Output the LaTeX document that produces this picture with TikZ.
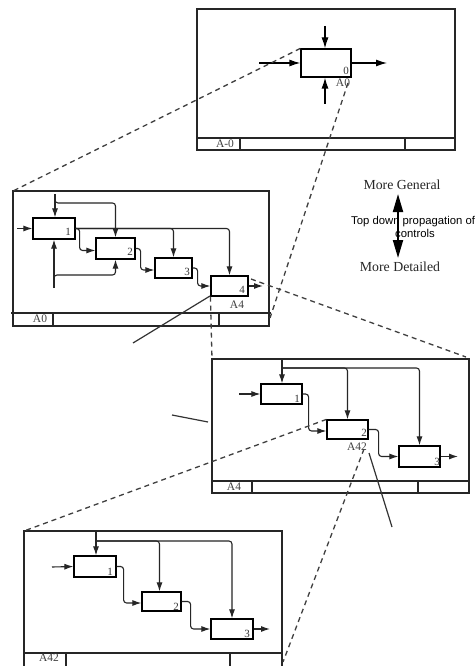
\documentclass[tikz,border=0pt]{standalone}
\usepackage{fontspec}
\setmainfont{Liberation Serif}
\newfontfamily\sansf{Liberation Sans}
\usetikzlibrary{arrows.meta}
\begin{document}
\begin{tikzpicture}[x=1pt,y=-1pt,
  frame/.style={draw=black!85,line width=1.3pt},
  proc/.style={draw=black,line width=1.2pt,inner sep=0pt,fill=white},
  arr/.style={draw=black!85,line width=1.1pt,-{Latex[length=9pt,width=6pt]},rounded corners=3pt},
  bigarr/.style={draw=black,line width=1.2pt,-{Latex[length=11pt,width=7pt]}},
  dsh/.style={dash pattern=on 5pt off 4pt,line width=1.3pt,draw=black!75},
  thin/.style={line width=1.2pt,draw=black!80},
  lbl/.style={font=\fontsize{11.5}{12}\selectfont,inner sep=0pt,text=black!75},
  num/.style={font=\fontsize{11}{11}\selectfont,inner sep=0pt,text=black!80},
  legend/.style={font=\fontsize{13.8}{14}\selectfont,inner sep=0pt,text=black!85}]
\useasboundingbox (0,0) rectangle (475,666);
\fill[white] (0,0) rectangle (475,666);

% ================= A-0 diagram =================
\draw[frame] (197,9) rectangle (455,150);
\draw[frame] (197,138) -- (455,138);
\draw[frame] (240,138) -- (240,150);
\draw[frame] (405,138) -- (405,150);
\node[lbl] (lA0top) at (225,144) {A-0};
\node[proc,minimum width=50pt,minimum height=28pt] (t0) at (326,63) {};
\node[num] (t0n) at (346,71) {0};
\node[lbl] (t0l) at (343,83) {A0};
\coordinate (t0c) at (325,26);
\coordinate (t0i) at (259,63);
\coordinate (t0o) at (387,63);
\coordinate (t0m) at (325,104);
\draw[bigarr] (t0c) -- (t0c |- t0.north);
\draw[bigarr] (t0i) -- (t0.west);
\draw[bigarr] (t0.east) -- (t0o);
\draw[bigarr] (t0m) -- (t0m |- t0.south);

% ================= A0 diagram =================
\draw[frame] (13,191) rectangle (269,326);
\draw[frame] (11,313) -- (271,313);
\draw[frame] (53,313) -- (53,326);
\draw[frame] (219,313) -- (219,326);
\node[lbl] (lA0) at (40,319) {A0};
\node[proc,minimum width=42pt,minimum height=21pt] (a1) at (54,228.5) {};
\node[proc,minimum width=39pt,minimum height=21pt] (a2) at (115.5,248.5) {};
\node[proc,minimum width=37pt,minimum height=20pt] (a3) at (173.5,268) {};
\node[proc,minimum width=37pt,minimum height=20pt] (a4) at (229.5,286) {};
\node[num] at (68,232) {1};
\node[num] at (130,252) {2};
\node[num] at (187,272) {3};
\node[num] at (242,290) {4};
\node[lbl] (a4l) at (237,305) {A4};
\coordinate (a0in) at (17,228.5);
\coordinate (a0ctl) at (55,194);
\coordinate (a0cb) at (55,199);
\coordinate (a0mech) at (54,288);
\coordinate (a0mb) at (54,281);
\coordinate (a0out) at (263,286);
\draw[arr] (a0in) -- (a1.west);
\draw[arr] (a0ctl) -- (a0ctl |- a1.north);
\draw[arr] (a0cb) -- ++(0,4) -| (a2.north);
\draw[arr] (a1.east) -| (a4.north);
\draw[arr] (a1.east) -| (a3.north);
\draw[arr] (a1.east) -- ++(4,0) |- ([yshift=-2pt]a2.west);
\draw[arr] (a2.east) -- ++(5,0) |- ([yshift=-2pt]a3.west);
\draw[arr] (a3.east) -- ++(5,0) |- (a4.west);
\draw[arr] (a4.east) -- (a0out);
\draw[arr] (a0mech) -- (a0mech |- a1.south);
\draw[arr] (a0mb) -- ++(0,-6) -| (a2.south);

% ================= A4 diagram =================
\draw[frame] (212,359) rectangle (469,493);
\draw[frame] (212,481) -- (469,481);
\draw[frame] (252,481) -- (252,493);
\draw[frame] (418,481) -- (418,493);
\node[lbl] (lA4) at (234,487) {A4};
\node[proc,minimum width=41pt,minimum height=20pt] (b1) at (281.5,394) {};
\node[proc,minimum width=41pt,minimum height=19pt] (b2) at (347.5,429.5) {};
\node[proc,minimum width=41pt,minimum height=21pt] (b3) at (419.5,456.5) {};
\node[num] at (297,399) {1};
\node[num] at (364,433) {2};
\node[num] at (437,462) {3};
\coordinate (b0ctl) at (282,359);
\coordinate (b0cb) at (282,368);
\coordinate (b0in) at (239,394);
\coordinate (b0out) at (458,456.5);
\draw[arr] (b0ctl) -- (b0ctl |- b1.north);
\draw[arr] (b0cb) -| (b3.north);
\draw[arr] (b0cb) -| (b2.north);
\draw[arr] (b0in) -- (b1.west);
\draw[arr] (b1.east) -- ++(6,0) |- ([yshift=-1.5pt]b2.west);
\draw[arr] (b2.east) -- ++(10,0) |- (b3.west);
\draw[arr] (b3.east) -- (b0out);

% ================= A42 diagram =================
\draw[frame] (24,531) rectangle (282,670);
\draw[frame] (24,653) -- (282,653);
\draw[frame] (66,653) -- (66,670);
\draw[frame] (230,653) -- (230,670);
\node[lbl] (lA42) at (49,658) {A42};
\node[proc,minimum width=42pt,minimum height=21pt] (c1) at (95,566.5) {};
\node[proc,minimum width=39pt,minimum height=19pt] (c2) at (161.5,601.5) {};
\node[proc,minimum width=42pt,minimum height=20pt] (c3) at (232,629) {};
\node[num] at (110,572) {1};
\node[num] at (176,607) {2};
\node[num] at (247,634) {3};
\coordinate (c0ctl) at (96,531);
\coordinate (c0cb) at (96,541);
\coordinate (c0in) at (52,567);
\coordinate (c0out) at (270,629);
\draw[arr] (c0ctl) -- (c0ctl |- c1.north);
\draw[arr] (c0cb) -| (c3.north);
\draw[arr] (c0cb) -| ([xshift=-2pt]c2.north);
\draw[arr] (c0in) -- (c1.west);
\draw[arr] (c1.east) -- ++(7,0) |- ([yshift=-1.5pt]c2.west);
\draw[arr] (c2.east) -- ++(9,0) |- (c3.west);
\draw[arr] (c3.east) -- (c0out);

% ================= A42 label over A4 box 2 =================
\node[lbl] (b2l) at (357,447) {A42};

% ================= decomposition (dashed) lines =================
\coordinate (A0fNW) at (13,191);
\coordinate (A0fSE) at (270,318);
\coordinate (t0SE) at (348,83);
\coordinate (A4fNW) at (212,359);
\coordinate (A4fNE) at (466,357);
\coordinate (a4NE) at (251,279);
\coordinate (A42fNW) at (24,531);
\coordinate (b2SE) at (364,449);
\coordinate (A42fSE) at (283,662);
\draw[dsh] (t0.north west) -- (A0fNW);
\draw[dsh] (t0SE) -- (A0fSE);
\draw[dsh] (a4.south west) -- (A4fNW);
\draw[dsh] (a4NE) -- (A4fNE);
\draw[dsh] (b2.north west) -- (A42fNW);
\draw[dsh] (b2SE) -- (A42fSE);

% ================= stray solid strokes =================
\coordinate (s1a) at (210,296);
\coordinate (s1b) at (133,343);
\coordinate (s2a) at (172,415);
\coordinate (s2b) at (208,422);
\coordinate (s3a) at (369,453);
\coordinate (s3b) at (392,527);
\draw[thin] (s1a) -- (s1b);
\draw[thin] (s2a) -- (s2b);
\draw[thin] (s3a) -- (s3b);

% ================= legend =================
\node[legend] (gen) at (402,185) {More General};
\node[legend] (det) at (400,267) {More Detailed};
\coordinate (lgtop) at (398,194);
\coordinate (lgbot) at (398,258);
\draw[line width=2pt,{Triangle[length=18pt,width=10pt]}-{Triangle[length=18pt,width=10pt]}] (lgtop) -- (lgbot);
\node[font=\sansf\fontsize{11.3}{12}\selectfont,inner sep=0pt,anchor=west] (tdp) at (351,222) {Top down propagation of};
\node[font=\sansf\fontsize{11.3}{12}\selectfont,inner sep=0pt] (ctr) at (415,233) {controls};
\end{tikzpicture}
\end{document}
